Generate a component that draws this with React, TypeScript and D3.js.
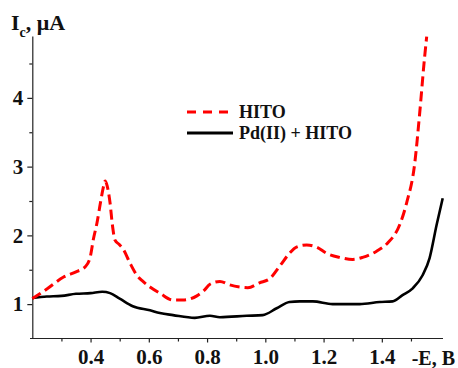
import { useEffect, useRef } from "react";
import * as d3 from "d3";

// HITO (red dashed) - potential, -E in V
const hitoE = [0.2, 0.25, 0.306, 0.35, 0.381, 0.398, 0.41, 0.422, 0.435, 0.445, 0.45, 0.457, 0.467, 0.475, 0.484, 0.498, 0.512, 0.535, 0.559, 0.58, 0.604, 0.638, 0.683, 0.717, 0.765, 0.79, 0.81, 0.844, 0.878, 0.912, 0.94, 0.98, 1.015, 1.049, 1.083, 1.107, 1.142, 1.176, 1.21, 1.255, 1.3, 1.334, 1.382, 1.42, 1.461, 1.485, 1.513, 1.53, 1.547, 1.554];
const hitoI = [1.08, 1.22, 1.39, 1.47, 1.54, 1.67, 1.95, 2.18, 2.5, 2.72, 2.79, 2.72, 2.47, 2.15, 1.93, 1.87, 1.8, 1.6, 1.42, 1.33, 1.25, 1.16, 1.06, 1.06, 1.12, 1.2, 1.29, 1.33, 1.28, 1.25, 1.24, 1.31, 1.37, 1.55, 1.74, 1.83, 1.86, 1.83, 1.74, 1.68, 1.65, 1.68, 1.77, 1.89, 2.15, 2.47, 3.05, 3.78, 4.6, 4.89];

// Pd(II) + HITO (black solid)
const pdE = [0.2, 0.25, 0.3, 0.35, 0.4, 0.44, 0.467, 0.5, 0.545, 0.604, 0.638, 0.683, 0.758, 0.81, 0.844, 0.936, 0.991, 1.039, 1.083, 1.118, 1.163, 1.231, 1.324, 1.393, 1.437, 1.471, 1.506, 1.54, 1.564, 1.588, 1.609];
const pdI = [1.09, 1.11, 1.12, 1.15, 1.16, 1.18, 1.16, 1.08, 0.97, 0.91, 0.87, 0.84, 0.8, 0.83, 0.81, 0.83, 0.84, 0.94, 1.03, 1.04, 1.04, 1.0, 1.0, 1.03, 1.04, 1.13, 1.23, 1.42, 1.67, 2.15, 2.54];

const xMajor = [0.4, 0.6, 0.8, 1.0, 1.2, 1.4];
const xMinor = [0.3, 0.5, 0.7, 0.9, 1.1, 1.3, 1.5];
const yMajor = [1, 2, 3, 4];
const yMinor = [1.5, 2.5, 3.5, 4.5];

const legendLabels = ["HITO", "Pd(II) + HITO"];

const width = 458;
const height = 368;
const font = "'Liberation Serif', 'Times New Roman', serif";

export default function App() {
  const svgRef = useRef(null);

  useEffect(() => {
    const svg = d3.select(svgRef.current);
    svg.selectAll("*").remove();

    const xScale = d3.scaleLinear().domain([0.2, 1.61]).range([32.3, 443]);
    const yScale = d3.scaleLinear().domain([0.5, 4.9]).range([338.5, 36]);

    // X axis
    const xg = svg.append("g").attr("transform", `translate(0, ${yScale(0.5)})`);
    xg.call(d3.axisBottom(xScale).tickValues(xMajor).tickSize(4).tickSizeOuter(0).tickFormat(d3.format(".1f")));
    xg.append("g").call(d3.axisBottom(xScale).tickValues(xMinor).tickSize(3).tickSizeOuter(0).tickFormat(() => ""))
      .select(".domain").remove();
    xg.select(".domain").attr("d", `M30,0H443`);
    xg.selectAll("text")
      .attr("font-family", font)
      .attr("font-weight", "bold")
      .attr("font-size", 21)
      .attr("fill", "#111")
      .attr("y", 7)
      .attr("dy", "0.9em");

    // Y axis
    const yg = svg.append("g").attr("transform", `translate(${xScale(0.2)}, 0)`);
    yg.call(d3.axisLeft(yScale).tickValues(yMajor).tickSize(5).tickSizeOuter(0).tickFormat(d3.format("d")));
    yg.append("g").call(d3.axisLeft(yScale).tickValues(yMinor).tickSize(3).tickSizeOuter(0).tickFormat(() => ""))
      .select(".domain").remove();
    yg.selectAll("text")
      .attr("font-family", font)
      .attr("font-weight", "bold")
      .attr("font-size", 21)
      .attr("fill", "#111")
      .attr("x", -9);

    svg.selectAll(".domain, .tick line").attr("stroke", "#222").attr("stroke-width", 1.2);

    const line = d3
      .line<[number, number]>()
      .x((d) => xScale(d[0]))
      .y((d) => yScale(d[1]))
      .curve(d3.curveMonotoneX);

    const hito = hitoE.map((e, i) => [e, hitoI[i]] as [number, number]);
    const pd = pdE.map((e, i) => [e, pdI[i]] as [number, number]);

    svg.append("path")
      .datum(pd)
      .attr("fill", "none")
      .attr("stroke", "#000")
      .attr("stroke-width", 2.6)
      .attr("d", line);

    svg.append("path")
      .datum(hito)
      .attr("fill", "none")
      .attr("stroke", "#ff0000")
      .attr("stroke-width", 3)
      .attr("stroke-dasharray", "10,5")
      .attr("d", line);

    // Legend
    const legend = svg.append("g");
    const styles = [
      { color: "#ff0000", dash: "9,7", y: 112 },
      { color: "#000", dash: null, y: 133 },
    ];
    legendLabels.forEach((label, i) => {
      const s = styles[i];
      legend.append("line")
        .attr("x1", 187).attr("x2", 233)
        .attr("y1", s.y).attr("y2", s.y)
        .attr("stroke", s.color)
        .attr("stroke-width", 3)
        .attr("stroke-dasharray", s.dash);
      legend.append("text")
        .attr("x", 239).attr("y", s.y + 6)
        .attr("font-family", font)
        .attr("font-weight", "bold")
        .attr("font-size", 18)
        .attr("fill", "#111")
        .text(label);
    });

    // Axis titles
    const yt = svg.append("text")
      .attr("x", 11).attr("y", 30)
      .attr("font-family", font)
      .attr("font-weight", "bold")
      .attr("font-size", 22)
      .attr("fill", "#111");
    yt.append("tspan").text("I");
    yt.append("tspan").attr("font-size", 14).attr("dy", 7).text("c");
    yt.append("tspan").attr("dy", -7).text(", μA");

    svg.append("text")
      .attr("x", 455).attr("y", 365)
      .attr("text-anchor", "end")
      .attr("font-family", font)
      .attr("font-weight", "bold")
      .attr("font-size", 20)
      .attr("fill", "#111")
      .text("-E, B");
  }, []);

  return (
    <svg
      ref={svgRef}
      width={width}
      height={height}
      style={{ position: "absolute", left: 0, top: 0, background: "#fff" }}
    />
  );
}
